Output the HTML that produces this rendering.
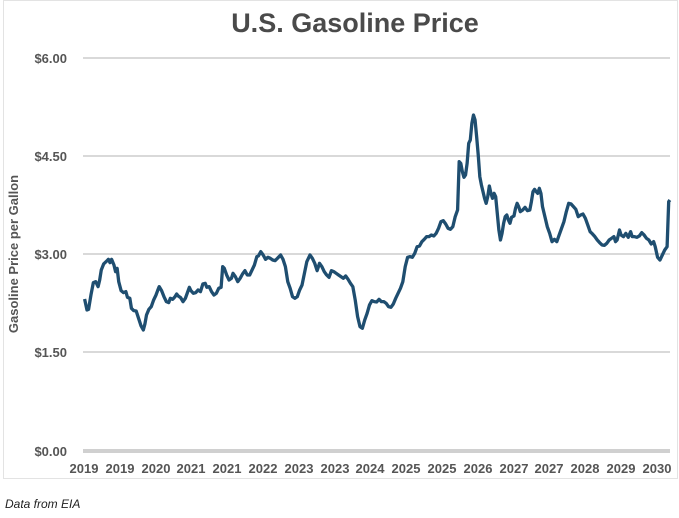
<!DOCTYPE html>
<html><head><meta charset="utf-8"><style>
body{margin:0;background:#fff;width:679px;height:513px;overflow:hidden;font-family:"Liberation Sans",Arial,sans-serif}
</style></head><body>
<svg width="679" height="513" viewBox="0 0 679 513" xmlns="http://www.w3.org/2000/svg">
<rect x="3.5" y="0.5" width="674" height="478" fill="#fff" stroke="#e3e3e3"/>
<text x="355" y="32" text-anchor="middle" font-size="27" font-weight="bold" fill="#4a4a4a" font-family="Liberation Sans, sans-serif">U.S. Gasoline Price</text>
<g stroke="#d9d9d9" stroke-width="2">
<line x1="83" y1="58" x2="670" y2="58"/><line x1="83" y1="156" x2="670" y2="156"/><line x1="83" y1="254" x2="670" y2="254"/><line x1="83" y1="352" x2="670" y2="352"/>
</g>
<line x1="83" y1="451" x2="670" y2="451" stroke="#d0d0d0" stroke-width="4"/>
<g font-size="13" font-weight="bold" fill="#555" text-anchor="end" font-family="Liberation Sans, sans-serif">
<text x="67" y="63">$6.00</text><text x="67" y="161">$4.50</text><text x="67" y="259">$3.00</text><text x="67" y="357">$1.50</text><text x="67" y="456">$0.00</text>
</g>
<text transform="translate(18,254) rotate(-90)" text-anchor="middle" font-size="13" font-weight="bold" fill="#555" font-family="Liberation Sans, sans-serif">Gasoline Price per Gallon</text>
<g font-size="13" font-weight="bold" fill="#555" text-anchor="middle" font-family="Liberation Sans, sans-serif">
<text x="84" y="473">2019</text><text x="120" y="473">2019</text><text x="156" y="473">2020</text><text x="191" y="473">2021</text><text x="227" y="473">2021</text><text x="263" y="473">2022</text><text x="299" y="473">2023</text><text x="335" y="473">2023</text><text x="370" y="473">2024</text><text x="406" y="473">2025</text><text x="442" y="473">2025</text><text x="478" y="473">2026</text><text x="514" y="473">2027</text><text x="549" y="473">2027</text><text x="585" y="473">2028</text><text x="621" y="473">2029</text><text x="657" y="473">2030</text>
</g>
<text x="5" y="508" font-size="12" font-style="italic" fill="#222" font-family="Liberation Sans, sans-serif">Data from EIA</text>
<g transform="translate(60,100) scale(0.3968,0.3333)">
<polyline fill="none" stroke="#1f4e70" stroke-width="3.3" vector-effect="non-scaling-stroke" stroke-linejoin="round" points="62,597 68,630 72,628 78,585 84,548 90,545 96,560 100,540 104,510 110,492 118,483 122,478 126,488 130,478 136,495 140,515 144,505 148,545 154,572 160,578 166,575 170,592 176,595 180,625 186,632 192,633 198,655 204,677 210,690 214,672 218,645 224,628 230,620 236,600 242,585 246,572 250,560 256,572 262,590 268,605 274,608 278,595 284,598 290,590 294,582 298,588 304,593 310,605 316,595 322,575 326,562 330,572 336,580 342,578 348,570 354,575 360,552 366,550 370,562 376,560 382,575 388,585 394,580 400,565 406,562 410,500 414,505 420,525 426,540 432,535 436,520 442,530 448,545 454,535 460,522 466,512 472,525 478,525 484,510 490,495 496,470 500,468 506,455 512,465 518,478 524,472 530,475 536,480 542,482 548,475 556,465 562,478 568,500 574,545 580,565 586,590 592,595 598,590 604,570 610,555 616,520 622,485 630,465 636,475 642,490 648,512 654,490 660,500 666,515 672,525 678,532 684,512 690,515 696,520 702,525 708,530 714,535 720,528 726,538 732,550 738,560 744,600 750,650 756,680 762,685 768,660 774,640 780,615 786,602 792,605 798,606 804,598 810,605 816,605 822,610 828,620 834,622 840,612 846,595 852,580 858,565 864,545 870,500 876,472 882,470 888,472 894,460 900,440 906,438 912,425 918,418 924,410 930,410 936,405 942,408 948,400 954,385 960,365 966,362 972,372 978,385 984,388 990,380 996,350 1002,330 1006,185 1010,190 1014,215 1018,232 1022,225 1026,190 1030,130 1034,120 1038,70 1042,45 1046,60 1050,110 1054,165 1058,230 1062,255 1066,275 1070,295 1074,310 1078,290 1082,258 1086,280 1090,295 1094,280 1098,290 1102,340 1106,390 1110,420 1114,400 1118,370 1122,350 1126,345 1130,360 1134,370 1138,352 1144,348 1148,325 1152,310 1156,320 1160,335 1166,330 1172,322 1178,332 1184,330 1188,305 1192,275 1196,268 1200,275 1204,280 1208,265 1212,280 1216,320 1222,350 1228,380 1234,400 1240,425 1246,418 1252,425 1258,405 1264,385 1270,365 1276,335 1282,310 1288,312 1294,320 1300,328 1306,350 1312,345 1318,342 1324,355 1330,375 1336,395 1342,402 1348,410 1354,420 1360,428 1366,435 1372,436 1378,430 1384,420 1390,415 1396,410 1400,425 1404,420 1410,390 1414,405 1420,410 1426,400 1432,412 1438,395 1442,410 1448,410 1454,412 1460,408 1466,398 1472,405 1478,415 1484,420 1490,432 1496,425 1500,440 1506,472 1512,480 1518,465 1524,450 1530,440 1534,305 1537,300"/>
</g>
</svg>
</body></html>
